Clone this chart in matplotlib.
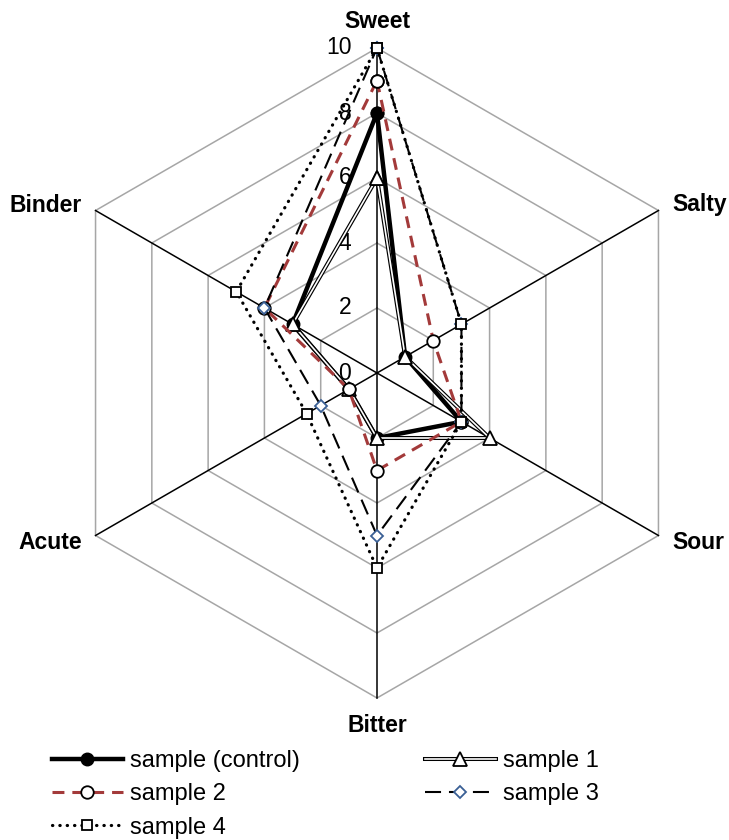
import numpy as np
import matplotlib
matplotlib.use("Agg")
import matplotlib.pyplot as plt
from matplotlib.legend_handler import HandlerTuple

plt.rcParams['font.family'] = ['Liberation Sans', 'DejaVu Sans']

# taste attributes, clockwise from the top
attributes = ["Sweet", "Salty", "Sour", "Bitter", "Acute", "Binder"]
angles_deg = [90, 30, -30, -90, -150, 150]
ticks = [0, 2, 4, 6, 8, 10]

control = [8, 1, 3, 2, 1, 3]
sample1 = [6, 1, 4, 2, 1, 3]
sample2 = [9, 2, 3, 3, 1, 4]
sample3 = [10, 3, 3, 5, 2, 4]
sample4 = [10, 3, 3, 6, 2.5, 5]

theta = np.radians(angles_deg)


def to_xy(vals):
    # close the polygon and go from radar to cartesian
    v = np.append(vals, vals[0])
    t = np.append(theta, theta[0])
    return v * np.cos(t), v * np.sin(t)


W, H = 729, 840
cx, cy, unit = 377, 373, 32.5  # centre and scale in pixels

fig = plt.figure(figsize=(W / 100, H / 100), dpi=100)
ax = fig.add_axes([0, 0, 1, 1])
ax.set_xlim(-cx / unit, (W - cx) / unit)
ax.set_ylim(-(H - cy) / unit, cy / unit)
ax.axis("off")

# hexagonal grid
for r in ticks[1:]:
    gx, gy = to_xy(np.full(6, r))
    ax.plot(gx, gy, color="#A6A6A6", lw=1.1, zorder=1)
# spokes
for t in theta:
    ax.plot([0, 10 * np.cos(t)], [0, 10 * np.sin(t)], color="black", lw=1.1, zorder=2)

# radial tick labels
for r in ticks:
    ax.annotate(str(r), (0, r), xytext=(-18.5, 0), textcoords="offset points",
                ha="right", va="center", fontsize=16.5, zorder=2)

# attribute labels
label_off = {
    "Sweet": ((0, 14.5), "center"),
    "Salty": ((10, 0), "left"),
    "Sour": ((10, -9.7), "left"),
    "Bitter": ((0, -24.5), "center"),
    "Acute": ((-9.4, -9.7), "right"),
    "Binder": ((-10, -1), "right"),
}
for name, t in zip(attributes, theta):
    off, ha = label_off[name]
    ax.annotate(name, (10 * np.cos(t), 10 * np.sin(t)), xytext=off,
                textcoords="offset points", ha=ha, va="baseline",
                fontsize=16.5, fontweight="bold")

x, y = to_xy(control)
h_ctrl, = ax.plot(x, y, color="black", lw=3.2, marker="o", ms=9,
                  mfc="black", mec="black", zorder=3)

x, y = to_xy(sample1)
h1a, = ax.plot(x, y, color="black", lw=2.9, zorder=4)
h1b, = ax.plot(x, y, color="white", lw=1.2, marker="^", ms=10,
               mfc="white", mec="black", mew=1.3, zorder=4)

x, y = to_xy(sample2)
h2, = ax.plot(x, y, color="#A33A3A", lw=2.2, dashes=(3.9, 2.6), marker="o",
              ms=9, mfc="white", mec="black", mew=1.3, zorder=5)

x, y = to_xy(sample3)
h3, = ax.plot(x, y, color="black", lw=1.5, dashes=(7.7, 3.8), marker="D",
              ms=6.5, mfc="white", mec="#3A5F95", mew=1.3, zorder=6)

x, y = to_xy(sample4)
h4, = ax.plot(x, y, color="black", lw=2.3, dashes=(0.1, 2.2),
              dash_capstyle="round", marker="s", ms=7.5, mfc="white",
              mec="black", mew=1.3, zorder=7)

# legend fills column by column: left column control/2/4, right column 1/3
fig.legend([h_ctrl, h2, h4, (h1a, h1b), h3],
           ["sample (control)", "sample 2", "sample 4", "sample 1", "sample 3"],
           handler_map={tuple: HandlerTuple(ndivide=1, pad=0)},
           loc="upper left", bbox_to_anchor=(52 / W, 1 - 750 / H), ncol=2,
           frameon=False, fontsize=17, handlelength=3.0, handletextpad=0.3,
           columnspacing=5.3, labelspacing=0.48, borderpad=0, borderaxespad=0)

fig.savefig("out.png", dpi=100)
